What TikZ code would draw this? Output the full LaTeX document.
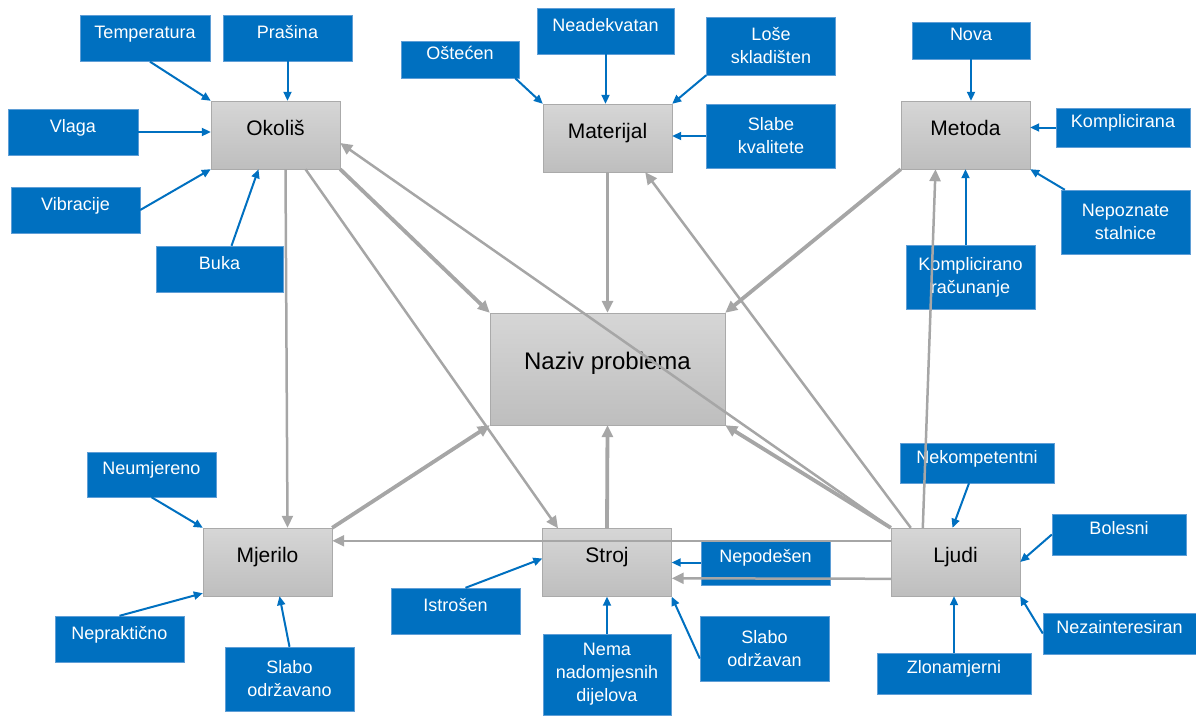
\documentclass[tikz,border=0pt]{standalone}
\usepackage{fontspec}
\setmainfont{Liberation Sans}
\usepackage{tikz}
\usetikzlibrary{arrows.meta,positioning}
\definecolor{bluefill}{RGB}{0,112,192}
\definecolor{blueline}{RGB}{95,158,214}
\definecolor{boxtop}{RGB}{214,214,214}
\definecolor{boxbot}{RGB}{190,190,190}
\definecolor{boxline}{RGB}{170,170,170}
\definecolor{linkgray}{RGB}{166,166,166}

\begin{document}
\begin{tikzpicture}[x=1pt,y=-1pt]

	\tikzstyle{cause}=[rectangle,draw=boxline,top color=boxtop,bottom color=boxbot,minimum width=129pt,minimum height=68pt,font=\fontsize{21}{25}\selectfont,text height=15pt,text depth=15pt]
	\tikzstyle{effect}=[rectangle,draw=blueline,fill=bluefill,text=white,minimum width=129pt,minimum height=46pt,inner sep=1pt,font=\fontsize{18}{23}\selectfont]
	\tikzstyle{oneline}=[text height=13pt,text depth=13pt]
	\tikzstyle{multiline}=[align=center,minimum height=64pt]
	\tikzstyle{link}=[draw=linkgray,line width=2.5pt,-{Triangle[length=12pt,width=11pt]}]
	\tikzstyle{strong}=[link,line width=3.8pt]
	\tikzstyle{feed}=[draw=bluefill,line width=2pt,-{Triangle[length=9pt,width=8pt]}]

	\useasboundingbox (0,0) rectangle (1196,715);

	\node [cause] (okolis)		at (275.5,135)	{Okoliš};
	\node [cause] (materijal)	at (607.5,138)	{Materijal};
	\node [cause] (metoda)		at (965.5,135)	{Metoda};
	\node [cause] (mjerilo)		at (267.5,562)	{Mjerilo};
	\node [cause] (stroj)		at (607,562.5)	{Stroj};
	\node [cause] (ljudi)		at (955.5,562)	{Ljudi};
	\node [cause,minimum width=235pt,minimum height=112pt,font=\fontsize{24}{28}\selectfont,text height=17pt,text depth=17pt] (naziv) at (607.5,369) {Naziv probiema};

	\node [effect,oneline,minimum width=130pt] (temperatura) at (145,38.5) {Temperatura};
	\node [effect,oneline] (prasina)		at (287.5,38)	{Prašina};
	\node [effect,oneline,minimum width=130pt] (vlaga) at (73,132) {Vlaga};
	\node [effect,oneline] (vibracije)		at (75.5,210)	{Vibracije};
	\node [effect,oneline,minimum width=127pt] (buka) at (219.5,269) {Buka};

	\node [effect,oneline,minimum width=118pt,minimum height=37pt] (ostecen) at (460,59.5) {Oštećen};
	\node [effect,oneline,minimum width=137pt] (neadekvatan) at (605.5,31) {Neadekvatan};
	\node [effect,multiline,minimum height=58pt] (lose) at (771,46) {Loše\\skladišten};
	\node [effect,multiline] (slabe)		at (771,136)	{Slabe\\kvalitete};

	\node [effect,oneline,minimum width=118pt,minimum height=37pt] (nova) at (971,40.5) {Nova};
	\node [effect,oneline,minimum width=134pt,minimum height=39pt] (komplicirana) at (1123,127.5) {Komplicirana};
	\node [effect,multiline] (nepoznate)	at (1125.5,222)	{Nepoznate\\stalnice};
	\node [effect,multiline] (racunanje)	at (970.5,277)	{Komplicirano\\računanje};

	\node [effect,oneline,minimum height=45pt] (neumjereno) at (151.5,474.5) {Neumjereno};
	\node [effect,oneline] (neprakticno)	at (119.5,639)	{Nepraktično};
	\node [effect,multiline] (odrzavano)	at (289.5,679)	{Slabo\\održavano};

	\node [effect,oneline] (istrosen)		at (455.5,611)	{Istrošen};
	\node [effect,multiline,minimum width=128pt,minimum height=81pt] (nema) at (607,674.5) {Nema\\nadomjesnih\\dijelova};
	\node [effect,oneline,minimum height=45pt] (nepodesen) at (765.5,562.5) {Nepodešen};
	\node [effect,multiline,minimum height=65pt] (odrzavan) at (764.5,648.5) {Slabo\\održavan};

	\node [effect,oneline,minimum width=154pt,minimum height=40pt] (nekompetentni) at (977,463) {Nekompetentni};
	\node [effect,oneline,minimum width=134pt,minimum height=41pt] (bolesni) at (1119,534.5) {Bolesni};
	\node [effect,oneline,minimum width=153pt,minimum height=41pt] (nezainteresiran) at (1119.5,633.5) {Nezainteresiran};
	\node [effect,oneline,minimum width=154pt,minimum height=41pt] (zlonamjerni) at (954,673.5) {Zlonamjerni};

	\path	(okolis.south east) edge [strong] (naziv.north west)
		([xshift=30pt]okolis.south) edge [link] ([xshift=-49pt]stroj.north)
		([xshift=10pt]okolis.south) edge [link] ([xshift=20pt]mjerilo.north)
		(materijal.south) edge [strong] (naziv.north)
		(metoda.south west) edge [strong] (naziv.north east)
		(mjerilo.north east) edge [strong] (naziv.south west)
		(stroj.north) edge [strong] (naziv.south)
		(ljudi.north west) edge [strong] (naziv.south east)
		(ljudi.north west) edge [link] ([yshift=-8pt]okolis.east)
		([xshift=20pt]ljudi.north west) edge [link] ([xshift=-27pt]materijal.south east)
		([xshift=32pt]ljudi.north west) edge [link] ([xshift=-30pt]metoda.south)
		([yshift=-13pt]ljudi.north west) edge [link] ([yshift=-13pt]mjerilo.north east)
		([yshift=-51pt]ljudi.north west) edge [link] ([yshift=-50pt]stroj.north east);

	\path	([xshift=5pt]temperatura.south) edge [feed] (okolis.north west)
		(prasina.south) edge [feed] (prasina.south |- okolis.north)
		(vlaga.east) edge [feed] (vlaga.east -| okolis.west)
		(vibracije.east) edge [feed] (okolis.south west)
		([xshift=12pt]buka.north) edge [feed] ([xshift=-17pt]okolis.south)
		([xshift=-4pt]ostecen.south east) edge [feed] (materijal.north west)
		(neadekvatan.south) edge [feed] (neadekvatan.south |- materijal.north)
		(lose.south west) edge [feed] (materijal.north east)
		(slabe.west) edge [feed] (slabe.west -| materijal.east)
		(nova.south) edge [feed] (nova.south |- metoda.north)
		(komplicirana.west) edge [feed] (komplicirana.west -| metoda.east)
		([xshift=4pt]nepoznate.north west) edge [feed] (metoda.south east)
		(racunanje.north -| metoda.south) edge [feed] (metoda.south)
		(neumjereno.south) edge [feed] (mjerilo.north west)
		(neprakticno.north) edge [feed] ([yshift=3pt]mjerilo.south west)
		(odrzavano.north) edge [feed] ([xshift=12pt]mjerilo.south)
		([xshift=10pt]istrosen.north) edge [feed] ([yshift=4pt]stroj.west)
		(nema.north) edge [feed] (stroj.south)
		(nepodesen.west) edge [feed] (nepodesen.west -| stroj.east)
		([yshift=-10pt]odrzavan.west) edge [feed] (stroj.south east)
		([xshift=-8pt]nekompetentni.south) edge [feed] ([xshift=-3pt]ljudi.north)
		(bolesni.west) edge [feed] (ljudi.east)
		(nezainteresiran.west) edge [feed] (ljudi.south east)
		(zlonamjerni.north) edge [feed] (zlonamjerni.north |- ljudi.south);
\end{tikzpicture}
\end{document}
